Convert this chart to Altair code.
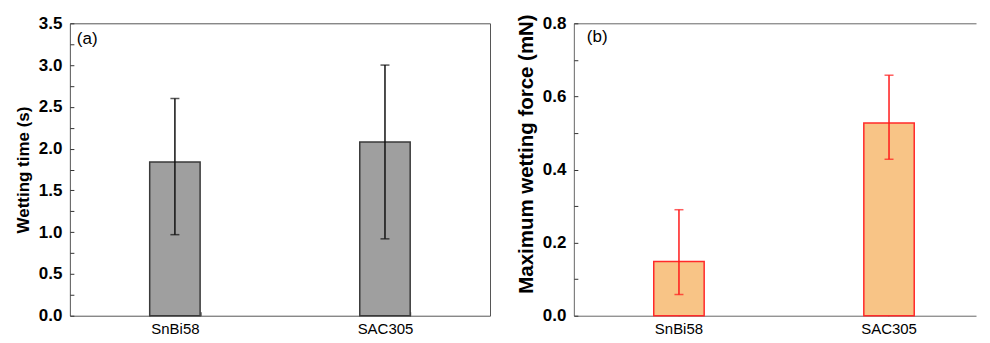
import altair as alt
import pandas as pd

# ---- data ----
categories = ["SnBi58", "SAC305"]

wet_time = [1.84, 2.08]
wet_time_lo = [0.97, 0.92]
wet_time_hi = [2.60, 3.00]

wet_force = [0.148, 0.527]
wet_force_lo = [0.058, 0.428]
wet_force_hi = [0.290, 0.658]

time_ticks = [0, 0.25, 0.5, 0.75, 1.0, 1.25, 1.5, 1.75, 2.0, 2.25, 2.5, 2.75, 3.0, 3.25, 3.5]
force_ticks = [0, 0.1, 0.2, 0.3, 0.4, 0.5, 0.6, 0.7, 0.8]

FONT = "Liberation Sans"
H = 293


def panel(values, lo, hi, ticks, major_every, ymax, ytitle, title_size, title_y, tag, tag_xy,
          fill, stroke, err_color, width, pin, pout, align, tick_band, view):
    df = pd.DataFrame({"cat": categories, "val": values, "lo": lo, "hi": hi})
    caps = pd.DataFrame({"cat": categories * 2, "y": list(lo) + list(hi)})

    xaxis = alt.Axis(title=None, labelFont=FONT, labelFontSize=15, labelColor="#000",
                     labelAngle=0, labelPadding=6, offset=-4, tickSize=4,
                     tickColor="#333", domain=False, tickBand=tick_band)
    xscale = alt.Scale(domain=categories, paddingInner=pin, paddingOuter=pout, align=align)
    yaxis = alt.Axis(title=ytitle, titleFont=FONT, titleFontSize=title_size,
                     titleFontWeight="bold", titleColor="#000", titlePadding=6,
                     titleY=title_y,
                     values=ticks,
                     labelExpr=f"abs(round(datum.value*{major_every}) - datum.value*{major_every}) < 1e-6 ? format(datum.value, '.1f') : ''",
                     labelFont=FONT, labelFontSize=17, labelFontWeight="bold",
                     labelColor="#000", labelPadding=8, offset=-4, tickSize=4,
                     tickColor="#333", domain=False, grid=False)
    yscale = alt.Scale(domain=[0, ymax], nice=False, zero=True)

    x = alt.X("cat:N", sort=categories, scale=xscale, axis=xaxis)

    bars = alt.Chart(df).mark_bar(fill=fill, stroke=stroke, strokeWidth=1.5).encode(
        x=x, y=alt.Y("val:Q", scale=yscale, axis=yaxis))
    rule = alt.Chart(df).mark_rule(color=err_color, strokeWidth=1.5).encode(
        x=x, y=alt.Y("lo:Q", scale=yscale, axis=yaxis), y2="hi:Q")
    cap = alt.Chart(caps).mark_tick(color=err_color, thickness=1.5, size=9).encode(
        x=x, y=alt.Y("y:Q", scale=yscale, axis=yaxis))
    label = alt.Chart(pd.DataFrame({"t": [tag]})).mark_text(
        font=FONT, fontSize=17, align="left", baseline="alphabetic", color="#000").encode(
        text="t:N", x=alt.value(tag_xy[0]), y=alt.value(tag_xy[1]))

    return alt.layer(bars, rule, cap, label).properties(width=width, height=H, view=view)


left = panel(wet_time, wet_time_lo, wet_time_hi, time_ticks, 2, 3.5,
             "Wetting time (s)", 17, H / 2, "(a)", (7, 21), "#9f9f9f", "#3a3a3a", "#111111",
             421, 0.76, 0.38, 0.5, "extent",
             alt.ViewBackground(stroke="#555", strokeWidth=1))

RW = 403
right = panel(wet_force, wet_force_lo, wet_force_hi, force_ticks, 5, 0.8,
              "Maximum wetting force (mN)", 20.5, 130.5, "(b)", (13, 19), "#f8c486", "#ff2a2a", "#ff1a1a",
              RW, 0.76, 0.3373, 0.564, "center",
              alt.ViewBackground(stroke="#666", strokeWidth=1, strokeDash=[RW, H, RW + H]))

chart = alt.hconcat(left, right, spacing=24).properties(
    padding={"left": 5, "top": 4, "right": 5, "bottom": 3}
).configure(background="white")

chart.save("out.html", embed_options={"renderer": "svg", "actions": False})
